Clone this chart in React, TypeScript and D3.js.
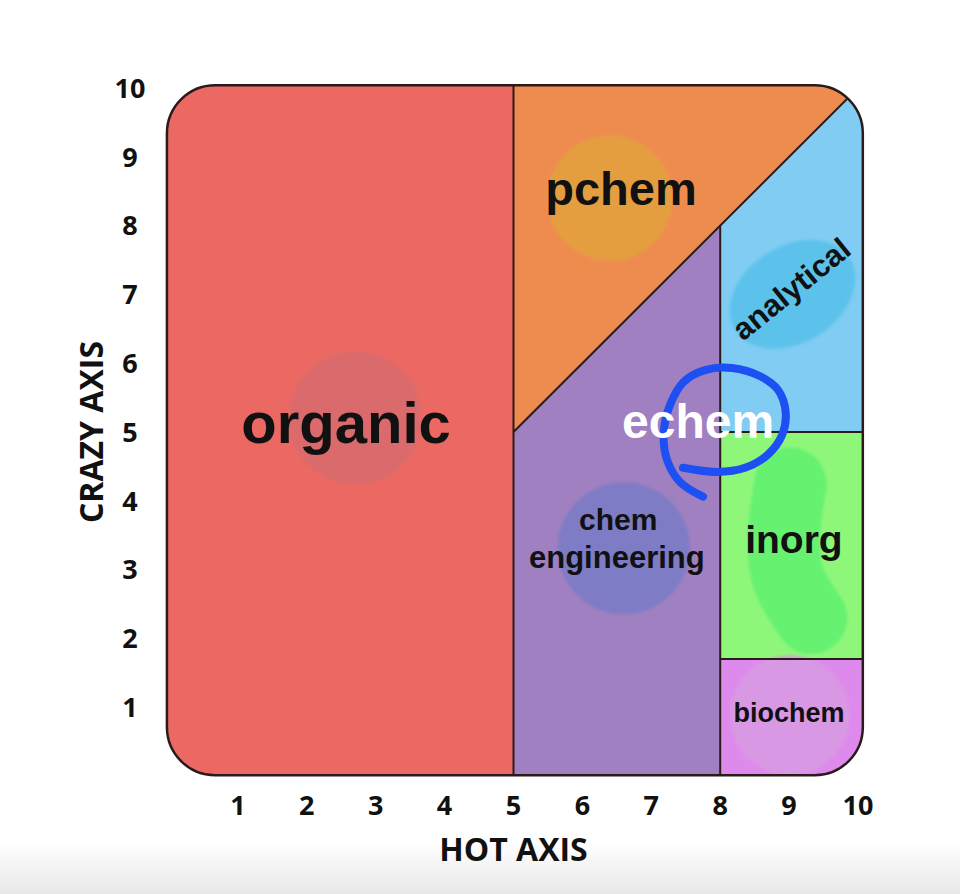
import React from 'react';
import * as d3 from 'd3';

// ---------- data ----------
const xTicks = [1, 2, 3, 4, 5, 6, 7, 8, 9, 10];
const yTicks = [1, 2, 3, 4, 5, 6, 7, 8, 9, 10];
const xTitle = 'HOT AXIS';
const yTitle = 'CRAZY AXIS';

// frame extent in data units
const frameX: [number, number] = [-0.03, 10.07];
const frameY: [number, number] = [0.01, 10.04];

// region boundaries
const splitHot = 5;
const splitHot2 = 8;
const splitCrazy = 5;
const splitCrazy2 = 1.7;

const regionNames = ['organic', 'pchem', 'chem engineering', 'analytical', 'inorg', 'biochem'];
const regionFills = ['#EC6963', '#EE8C50', '#A080C0', '#80CCF2', '#8EF77A', '#DE8AEC'];

// highlight blobs (data units)
const blobCircles = [
  { cx: 2.70, cy: 5.20, r: 0.97, fill: '#DB6A6C' },
  { cx: 6.40, cy: 8.40, r: 0.91, fill: '#E49E3F' },
  { cx: 6.60, cy: 3.31, r: 0.96, fill: '#7F7BC6' },
  { cx: 9.01, cy: 0.88, r: 0.87, fill: '#D898E4' },
];
const analyticalBlob = { cx: 9.05, cy: 7.0, rx: 0.98, ry: 0.70, angle: -32, fill: '#5CC2EC' };
const inorgBlobPath: [number, number][] = [[9.02, 4.25], [8.93, 3.55], [8.98, 2.9], [9.32, 2.3]];
const inorgBlobWidth = 1.05;
const inorgBlobFill = '#66F171';

// labels
const labelTexts = ['organic', 'pchem', 'chem', 'engineering', 'inorg', 'biochem'];
const labelX = [2.57, 6.56, 6.52, 6.50, 9.07, 9.0];
const labelY = [4.84, 8.30, 3.58, 3.02, 3.24, 0.78];
const labelSize = [58, 47, 30, 31, 39, 27];

const analyticalLabel = { text: 'analytical', x: 9.03, y: 7.08, size: 31, angle: -39 };
const echemLabel = { text: 'echem', x: 7.68, y: 4.91, size: 48 };

// hand-drawn echem loop (data units)
const echemLoop: [number, number][] = [
  [7.46, 4.48], [7.95, 4.42], [8.36, 4.48], [8.69, 4.67], [8.90, 4.96], [8.95, 5.29],
  [8.84, 5.61], [8.58, 5.81], [8.17, 5.93], [7.78, 5.90], [7.47, 5.73], [7.27, 5.39],
  [7.18, 4.99], [7.23, 4.59], [7.42, 4.27], [7.75, 4.06],
];

// ---------- layout ----------
const W = 960;
const H = 894;
const x = d3.scaleLinear().domain([0, 10]).range([169, 858]);
const y = d3.scaleLinear().domain([0, 10]).range([776, 88]);
const unit = x(1) - x(0);

const labelFont = '"Liberation Sans", Arial, Helvetica, sans-serif';
const axisFont = '"Open Sans", "Noto Sans", sans-serif';
const lineColor = '#2A1B1B';

export default function App() {
  const [lo, hi] = [Math.min(frameX[0], frameY[0]) - 0.5, Math.max(frameX[1], frameY[1]) + 0.5];
  const polys: [number, number][][] = [
    [[lo, lo], [splitHot, lo], [splitHot, hi], [lo, hi]],
    [[splitHot, splitCrazy], [splitHot, hi], [hi, hi]],
    [[splitHot, lo], [splitHot, splitCrazy], [splitHot2, splitHot2], [splitHot2, lo]],
    [[splitHot2, splitCrazy], [splitHot2, splitHot2], [hi, hi], [hi, splitCrazy]],
    [[splitHot2, splitCrazy2], [splitHot2, splitCrazy], [hi, splitCrazy], [hi, splitCrazy2]],
    [[splitHot2, lo], [splitHot2, splitCrazy2], [hi, splitCrazy2], [hi, lo]],
  ];
  const poly = (pts: [number, number][]) =>
    'M' + pts.map((p) => `${x(p[0])},${y(p[1])}`).join('L') + 'Z';

  const boundaryLines: [number, number][][] = [
    [[splitHot, lo], [splitHot, hi]],
    [[splitHot, splitCrazy], [hi, hi]],
    [[splitHot2, lo], [splitHot2, splitHot2]],
    [[splitHot2, splitCrazy], [hi, splitCrazy]],
    [[splitHot2, splitCrazy2], [hi, splitCrazy2]],
  ];

  const fx0 = x(frameX[0]);
  const fx1 = x(frameX[1]);
  const fy0 = y(frameY[1]);
  const fy1 = y(frameY[0]);
  const radius = 0.7 * unit;

  const curve = d3
    .line<[number, number]>()
    .x((d) => x(d[0]))
    .y((d) => y(d[1]))
    .curve(d3.curveCatmullRom.alpha(0.5));

  return (
    <svg
      width={W}
      height={H}
      viewBox={`0 0 ${W} ${H}`}
      style={{ position: 'absolute', left: 0, top: 0, display: 'block' }}
    >
      <defs>
        <clipPath id="frame">
          <rect x={fx0} y={fy0} width={fx1 - fx0} height={fy1 - fy0} rx={radius} ry={radius} />
        </clipPath>
        <linearGradient id="bottomShade" x1="0" y1="0" x2="0" y2="1">
          <stop offset="0" stopColor="#ffffff" />
          <stop offset="1" stopColor="#e8e8e8" />
        </linearGradient>
        <filter id="soft" filterUnits="userSpaceOnUse" x={0} y={0} width={W} height={H}>
          <feGaussianBlur stdDeviation="1.5" />
        </filter>
      </defs>
      <rect x={0} y={0} width={W} height={H} fill="#ffffff" />
      <rect x={0} y={842} width={W} height={H - 842} fill="url(#bottomShade)" />

      <g clipPath="url(#frame)">
        {polys.map((p, i) => (
          <path key={regionNames[i]} d={poly(p)} fill={regionFills[i]} />
        ))}
        {blobCircles.map((b, i) => (
          <circle key={i} cx={x(b.cx)} cy={y(b.cy)} r={b.r * unit} fill={b.fill} filter="url(#soft)" />
        ))}
        <ellipse
          cx={x(analyticalBlob.cx)}
          cy={y(analyticalBlob.cy)}
          rx={analyticalBlob.rx * unit}
          ry={analyticalBlob.ry * unit}
          transform={`rotate(${analyticalBlob.angle} ${x(analyticalBlob.cx)} ${y(analyticalBlob.cy)})`}
          fill={analyticalBlob.fill}
          filter="url(#soft)"
        />
        <path
          d={curve(inorgBlobPath) || ''}
          fill="none"
          stroke={inorgBlobFill}
          strokeWidth={inorgBlobWidth * unit}
          strokeLinecap="round"
          strokeLinejoin="round"
          filter="url(#soft)"
        />
        {boundaryLines.map((l, i) => (
          <line
            key={i}
            x1={x(l[0][0])}
            y1={y(l[0][1])}
            x2={x(l[1][0])}
            y2={y(l[1][1])}
            stroke={lineColor}
            strokeWidth={2}
          />
        ))}
      </g>
      <rect
        x={fx0}
        y={fy0}
        width={fx1 - fx0}
        height={fy1 - fy0}
        rx={radius}
        ry={radius}
        fill="none"
        stroke={lineColor}
        strokeWidth={2.5}
      />

      {labelTexts.map((t, i) => (
        <text
          key={t}
          x={x(labelX[i])}
          y={y(labelY[i])}
          textAnchor="middle"
          fontFamily={labelFont}
          fontWeight="bold"
          fontSize={labelSize[i]}
          fill="#111111"
        >
          {t}
        </text>
      ))}
      <text
        x={x(analyticalLabel.x)}
        y={y(analyticalLabel.y)}
        dy="0.35em"
        textAnchor="middle"
        fontFamily={labelFont}
        fontWeight="bold"
        fontSize={analyticalLabel.size}
        fill="#111111"
        transform={`rotate(${analyticalLabel.angle} ${x(analyticalLabel.x)} ${y(analyticalLabel.y)})`}
      >
        {analyticalLabel.text}
      </text>

      <path
        d={curve(echemLoop) || ''}
        fill="none"
        stroke="#1E4FF2"
        strokeWidth={8}
        strokeLinecap="round"
        strokeLinejoin="round"
      />
      <text
        x={x(echemLabel.x)}
        y={y(echemLabel.y)}
        textAnchor="middle"
        fontFamily={labelFont}
        fontWeight="bold"
        fontSize={echemLabel.size}
        fill="#ffffff"
      >
        {echemLabel.text}
      </text>

      {/* axes */}
      {xTicks.map((t) => (
        <text
          key={'x' + t}
          x={x(t)}
          y={815}
          textAnchor="middle"
          fontFamily={axisFont}
          fontWeight="bold"
          fontSize={27}
          fill="#111111"
        >
          {t}
        </text>
      ))}
      {yTicks.map((t) => (
        <text
          key={'y' + t}
          x={130}
          y={y(t)}
          dy="0.36em"
          textAnchor="middle"
          fontFamily={axisFont}
          fontWeight="bold"
          fontSize={27}
          fill="#111111"
        >
          {t}
        </text>
      ))}
      <text
        x={x(5)}
        y={861}
        textAnchor="middle"
        fontFamily={axisFont}
        fontWeight="bold"
        fontSize={32}
        fill="#111111"
      >
        {xTitle}
      </text>
      <text
        x={103}
        y={y(5)}
        textAnchor="middle"
        fontFamily={axisFont}
        fontWeight="bold"
        fontSize={32}
        fill="#111111"
        transform={`rotate(-90 103 ${y(5)})`}
      >
        {yTitle}
      </text>
    </svg>
  );
}
